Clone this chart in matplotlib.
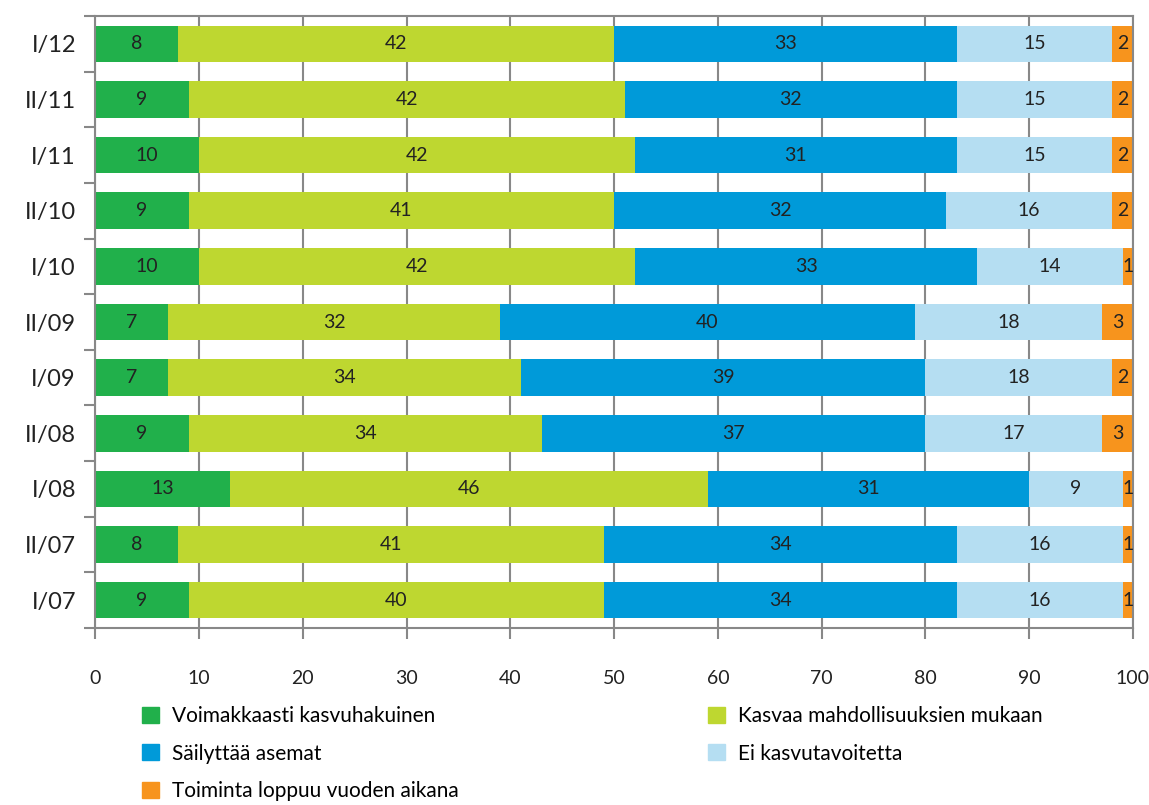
import matplotlib.pyplot as plt
import matplotlib.patches as mpatches
import numpy as np

plt.rcParams['font.family'] = ['Lato', 'DejaVu Sans']

jaksot = ["I/12", "II/11", "I/11", "II/10", "I/10", "II/09", "I/09", "II/08", "I/08", "II/07", "I/07"]
voimakkaasti = [8, 9, 10, 9, 10, 7, 7, 9, 13, 8, 9]
kasvaa = [42, 42, 42, 41, 42, 32, 34, 34, 46, 41, 40]
sailyttaa = [33, 32, 31, 32, 33, 40, 39, 37, 31, 34, 34]
ei_kasvua = [15, 15, 15, 16, 14, 18, 18, 17, 9, 16, 16]
loppuu = [2, 2, 2, 2, 1, 3, 2, 3, 1, 1, 1]

nimet = ["Voimakkaasti kasvuhakuinen", "Kasvaa mahdollisuuksien mukaan",
         "Säilyttää asemat", "Ei kasvutavoitetta", "Toiminta loppuu vuoden aikana"]
varit = ["#21b04b", "#bed730", "#009ad9", "#b5def2", "#f7941d"]

sarjat = [voimakkaasti, kasvaa, sailyttaa, ei_kasvua, loppuu]

fig = plt.figure(figsize=(11.49, 8.05), dpi=100)
ax = fig.add_axes([0.083, 0.22, 0.903, 0.76])

y = np.arange(len(jaksot))
vasen = np.zeros(len(jaksot))
for arvot, nimi, vari in zip(sarjat, nimet, varit):
    arvot = np.array(arvot)
    ax.barh(y, arvot, left=vasen, height=0.66, color=vari, label=nimi, zorder=2)
    for yi, v, l in zip(y, arvot, vasen):
        ax.text(l + v / 2, yi, str(v), ha="center", va="center",
                fontsize=14, color="#222222", zorder=3)
    vasen += arvot

ax.set_xlim(0, 100)
ax.set_ylim(len(jaksot) - 0.5, -0.5)
ax.set_xticks(range(0, 101, 10))
ax.tick_params(axis="x", labelsize=14, length=8, width=1.5, color="#888888",
               pad=22, labelcolor="#222222")
ax.set_yticks(y)
ax.set_yticklabels(jaksot, fontsize=17, color="#222222")
ax.set_yticks(np.arange(len(jaksot) + 1) - 0.5, minor=True)
ax.tick_params(axis="y", which="major", length=0, pad=14)
ax.tick_params(axis="y", which="minor", length=8, width=1.5, color="#888888")
ax.grid(axis="x", color="#888888", linewidth=1.5, zorder=1)
ax.set_axisbelow(True)
for s in ax.spines.values():
    s.set_color("#888888")
    s.set_linewidth(1.5)

kahvat = [mpatches.Patch(color=varit[i], label=nimet[i]) for i in [0, 2, 4, 1, 3]]
fig.legend(handles=kahvat, loc="upper left", bbox_to_anchor=(0.124, 0.123),
           ncol=2, frameon=False, fontsize=15, handlelength=0.8, handleheight=0.8,
           handletextpad=0.6, columnspacing=12.0, labelspacing=0.85,
           borderaxespad=0, borderpad=0)

fig.savefig("out.png", dpi=100)
